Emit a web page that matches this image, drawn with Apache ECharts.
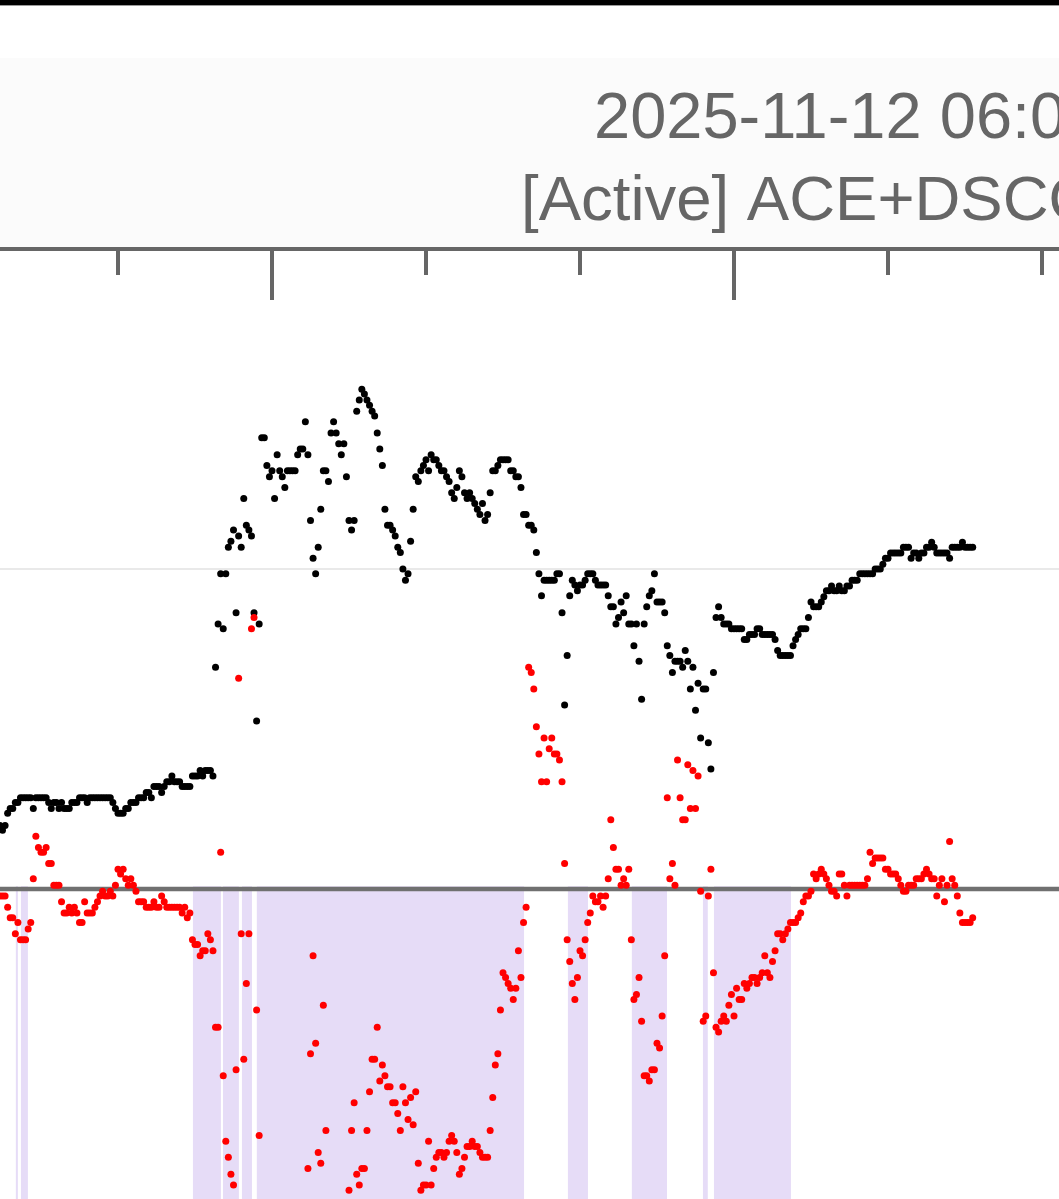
<!DOCTYPE html>
<html>
<head>
<meta charset="utf-8">
<script src="https://cdn.jsdelivr.net/npm/echarts@6/dist/echarts.min.js"></script>
<style>
html,body{margin:0;padding:0;background:#fff;}
#chart{width:1059px;height:1199px;}
</style>
</head>
<body>
<div id="chart"></div>
<script>
// Time in minutes relative to 03:00; one sample per minute
const startMinute = -106;
const titleLine1 = "2025-11-12 06:00 UTC";
const titleLine2 = "[Active] ACE+DSCOVR";

// Total field (black)
const btValues = [
1.19,1.10,1.19,1.42,1.51,1.51,1.62,1.62,1.71,1.71,1.71,1.71,1.71,1.51,1.71,1.71,1.71,1.71,1.71,1.62,
1.51,1.62,1.62,1.51,1.62,1.51,1.51,1.51,1.62,1.62,1.62,1.71,1.71,1.71,1.62,1.71,1.71,1.71,1.71,1.71,
1.71,1.71,1.71,1.71,1.62,1.51,1.42,1.42,1.42,1.51,1.51,1.62,1.62,1.62,1.71,1.71,1.71,1.81,1.81,1.71,
1.92,1.92,1.92,1.81,1.92,2.01,2.01,2.12,2.01,2.01,2.01,1.92,1.92,1.92,1.92,2.12,2.12,2.12,2.22,2.12,
2.22,2.22,2.22,2.12,4.16,4.97,5.91,4.88,5.91,6.41,6.52,6.73,5.18,6.62,6.41,7.32,6.82,6.73,6.62,5.18,
3.15,4.97,8.46,8.46,7.94,7.73,7.84,7.32,8.14,7.84,7.73,7.53,7.84,7.84,7.84,7.84,8.14,8.25,8.25,8.76,
8.14,6.91,6.20,5.91,6.41,7.12,7.84,7.84,7.64,8.55,8.76,8.55,8.35,8.14,8.35,7.73,6.91,6.73,6.91,8.96,
9.17,9.37,9.28,9.17,9.07,8.96,8.87,8.55,8.25,7.94,7.12,6.82,6.82,6.73,6.62,6.41,6.31,6.00,5.79,5.91,
6.52,7.12,7.73,7.64,7.84,7.94,8.05,7.84,8.14,8.05,8.05,7.94,7.84,7.84,7.73,7.64,7.43,7.32,7.53,7.84,
7.73,7.43,7.32,7.43,7.32,7.23,7.12,7.02,7.23,6.91,7.02,7.43,7.84,7.84,7.94,8.05,8.05,8.05,8.05,7.84,
7.84,7.73,7.73,7.53,7.02,7.02,6.82,6.82,6.73,6.31,5.91,5.50,5.79,5.79,5.79,5.79,5.79,5.91,5.91,5.18,
3.45,4.38,5.50,5.79,5.70,5.59,5.70,5.70,5.79,5.91,5.91,5.91,5.79,5.70,5.70,5.70,5.70,5.50,5.29,5.29,
4.97,5.09,5.38,5.18,5.50,4.97,4.97,4.56,4.97,4.27,3.56,4.97,5.29,5.50,5.59,5.91,5.38,5.38,5.38,5.18,
4.56,4.38,4.06,4.27,4.27,4.27,4.16,4.47,4.27,3.75,4.16,3.35,3.86,2.83,3.75,3.75,2.74,2.25,4.06,5.09,
5.29,5.09,4.97,4.97,4.97,4.88,4.88,4.88,4.88,4.88,4.68,4.68,4.77,4.77,4.77,4.88,4.88,4.77,4.77,4.77,
4.77,4.77,4.68,4.47,4.38,4.38,4.38,4.38,4.38,4.56,4.68,4.77,4.88,4.88,4.88,5.09,5.38,5.29,5.29,5.29,
5.38,5.48,5.59,5.59,5.68,5.59,5.59,5.68,5.59,5.59,5.68,5.68,5.79,5.79,5.79,5.91,5.91,5.91,5.91,5.91,
5.91,6.00,6.00,6.00,6.09,6.20,6.20,6.30,6.30,6.30,6.30,6.30,6.41,6.41,6.41,6.20,6.30,6.30,6.20,6.30,
6.30,6.41,6.41,6.50,6.41,6.30,6.30,6.30,6.30,6.30,6.20,6.41,6.41,6.41,6.41,6.50,6.41,6.41,6.41,6.41
];

// Bz component (red); null = below the plotted range, not readable
const bzValues = [
-0.13,-0.13,-0.13,-0.34,-0.54,-0.54,-0.84,-0.63,-0.95,-0.95,-0.95,-0.75,-0.63,0.19,0.99,0.78,0.69,0.69,0.78,0.48,
0.48,0.07,0.07,0.07,-0.24,-0.45,-0.45,-0.34,-0.45,-0.34,-0.45,-0.63,-0.63,-0.24,-0.45,-0.45,-0.45,-0.34,-0.24,-0.13,
-0.04,-0.13,-0.13,-0.04,-0.13,0.07,0.37,0.28,0.37,0.19,0.07,0.19,0.07,-0.04,-0.24,-0.24,-0.24,-0.34,-0.34,-0.34,
-0.24,-0.34,-0.34,-0.13,-0.24,-0.34,-0.34,-0.34,-0.34,-0.34,-0.34,-0.45,-0.34,-0.54,-0.45,-0.95,-1.04,-1.04,-1.25,-1.16,
-1.16,-0.84,-0.95,-1.16,-2.59,-2.59,0.69,-3.50,-4.73,-5.03,-5.35,-5.55,-3.39,3.95,-0.84,-3.19,-1.77,-0.84,4.88,5.09,
-2.27,-4.62,null,null,null,null,null,null,null,null,null,null,null,null,null,null,null,null,null,null,
-5.24,-3.09,-1.25,-2.89,-4.94,-5.14,-2.18,-4.53,null,null,null,null,null,null,null,null,-5.65,-4.53,-4.01,-5.35,
-5.55,-5.24,-5.24,-4.53,-3.80,-3.19,-3.19,-2.59,-3.60,-3.30,-3.50,-3.71,-3.71,-4.01,-4.01,-4.21,-4.53,-3.71,-4.01,-4.32,
-3.91,-4.42,-3.80,-5.14,-5.65,-5.55,-5.55,-4.73,-5.55,-5.24,-5.03,-4.94,-4.94,-5.03,-4.94,-4.73,-4.62,-4.73,-4.94,-5.35,
-5.24,-5.03,-4.83,-4.83,-4.73,-4.83,-4.83,-4.94,-5.03,-5.03,-5.03,-4.53,-3.91,-3.30,-3.09,-2.27,-1.57,-1.66,-1.77,-1.86,
-2.07,-1.86,-1.16,-1.66,-0.63,-0.34,4.16,4.06,3.75,3.04,2.53,2.01,2.83,2.01,2.63,2.83,2.53,2.53,2.42,2.01,
0.48,-0.95,-1.36,-1.77,-2.07,-1.66,-1.16,-1.25,-0.95,-0.63,-0.45,-0.13,-0.24,-0.24,-0.13,-0.34,-0.13,0.19,1.30,0.78,
0.37,0.37,0.07,0.19,0.07,0.37,-0.95,-2.07,-1.98,-1.66,-2.48,-3.50,-3.50,-3.60,-3.39,-3.39,-2.89,-2.98,-2.38,-1.25,
1.71,0.19,0.48,0.07,2.42,1.71,1.30,1.30,2.33,1.51,2.22,1.51,2.12,-0.04,-2.48,-2.38,-0.13,0.37,-1.57,-2.59,
-2.68,-2.48,-2.38,-2.48,-2.18,-1.98,-2.38,-1.86,-2.07,-2.07,-1.77,-1.86,-1.77,-1.66,-1.66,-1.77,-1.66,-1.57,-1.25,-1.57,
-1.66,-1.36,-1.16,-0.84,-0.84,-0.95,-0.84,-0.75,-0.63,-0.63,-0.63,-0.54,-0.45,-0.24,-0.13,-0.13,-0.04,0.28,0.19,0.28,
0.37,0.28,0.19,0.07,-0.04,-0.04,-0.13,0.28,0.28,0.07,-0.13,0.07,0.07,0.07,0.07,0.07,0.07,0.07,0.19,0.69,
0.48,0.58,0.58,0.58,0.58,0.37,0.37,0.28,0.28,0.28,0.19,0.07,-0.04,-0.04,0.07,0.07,0.07,0.19,0.19,0.19,
0.28,0.37,0.28,0.19,0.19,-0.13,0.07,0.19,-0.24,0.07,0.89,0.19,0.07,-0.13,-0.45,-0.63,-0.63,-0.63,-0.63,-0.54
];

// Southward-field intervals (minutes relative to 03:00)
const shadeStart = [-99.8, -97.8, -30.8, -19.1, -11.7, -5.9, 115.3, 140.2, 167.9, 172.2];
const shadeEnd   = [-99.0, -95.1, -19.9, -12.9,  -7.8, 98.2, 123.1, 153.9, 169.8, 202.2];

// Axis settings
const X_MIN = -180, X_MAX = 360, X_STEP = 180;
const Y_MIN = -12, Y_MAX = 12, Y_STEP = 6;

const toPoints = vals => vals.map((v, i) => v === null ? null : [startMinute + i, v]).filter(p => p);

const shadeAreas = shadeStart.map((s, i) => [
  { xAxis: s, yAxis: 0.05 },
  { xAxis: shadeEnd[i], yAxis: Y_MIN }
]);

const chart = echarts.init(document.getElementById('chart'), null, { renderer: 'canvas' });
chart.setOption({
  animation: false,
  backgroundColor: '#ffffff',
  graphic: [
    { type: 'rect', left: 0, top: 0, shape: { width: 1059, height: 5 }, style: { fill: '#000' }, z: 100 },
    { type: 'rect', left: 0, top: 5, shape: { width: 1059, height: 1 }, style: { fill: '#9a9a9a' }, z: 100 },
    { type: 'rect', left: 0, top: 58, shape: { width: 1059, height: 189 }, style: { fill: '#fbfbfb' }, z: -10 },
    { type: 'text', left: 594, top: 88, style: { text: titleLine1, font: '65px "Liberation Sans", Arial, sans-serif', fill: '#666' }, z: 100 },
    { type: 'text', left: 521, top: 170, style: { text: titleLine2, font: '63.5px "Liberation Sans", Arial, sans-serif', fill: '#666' }, z: 100 }
  ],
  grid: { left: -190, top: 249, width: 1386, height: 1280, outerBoundsMode: 'none', containLabel: false, show: false },
  xAxis: {
    type: 'value', position: 'top', min: X_MIN, max: X_MAX, interval: X_STEP,
    axisLine: { show: true, onZero: false, lineStyle: { color: '#666', width: 4 } },
    axisTick: { show: true, inside: true, length: 51, lineStyle: { color: '#666', width: 4 } },
    minorTick: { show: true, splitNumber: 3, length: 26, lineStyle: { color: '#666', width: 4 } },
    axisLabel: { show: false },
    splitLine: { show: false }
  },
  yAxis: {
    type: 'value', min: Y_MIN, max: Y_MAX, interval: Y_STEP,
    axisLine: { show: false }, axisTick: { show: false }, axisLabel: { show: false },
    splitLine: { show: true, lineStyle: { color: '#e9e9e9', width: 2 } }
  },
  series: [
    {
      name: 'zero', type: 'line', z: 1, silent: true, symbol: 'none',
      data: [[X_MIN, 0], [X_MAX, 0]],
      lineStyle: { color: '#707070', width: 4.5 }
    },
    {
      name: 'shade', type: 'scatter', z: 2, silent: true, data: [], symbolSize: 0,
      markArea: { silent: true, itemStyle: { color: 'rgba(150,110,220,0.24)' }, data: shadeAreas }
    },
    {
      name: 'Bt', type: 'scatter', z: 4, symbol: 'circle', symbolSize: 7,
      itemStyle: { color: '#000', opacity: 1 }, data: toPoints(btValues)
    },
    {
      name: 'Bz', type: 'scatter', z: 5, symbol: 'circle', symbolSize: 7,
      itemStyle: { color: '#ff0000', opacity: 1 }, data: toPoints(bzValues)
    }
  ]
});
</script>
</body>
</html>
